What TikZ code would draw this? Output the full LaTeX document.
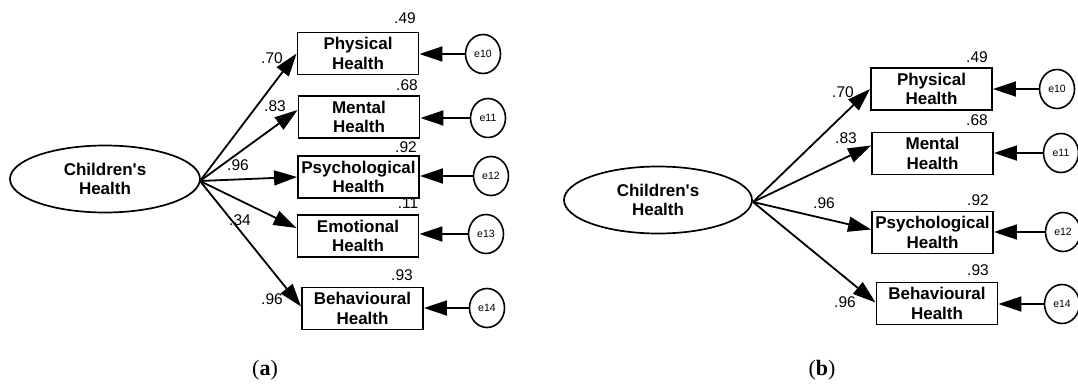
\documentclass[tikz,border=0pt]{standalone}
\usepackage{fontspec}
\newfontfamily\lab{Liberation Sans}
\newfontfamily\capf{Liberation Serif}
\usetikzlibrary{arrows.meta,shapes.geometric,calc}
\tikzset{
  var/.style={draw,line width=1.9pt,minimum width=121pt,minimum height=42pt,inner sep=0pt,align=center,
    font=\lab\bfseries\fontsize{17}{19.5}\selectfont},
  lat/.style={draw,ellipse,line width=1.7pt,minimum width=190pt,minimum height=67pt,inner sep=0pt,align=center,
    font=\lab\bfseries\fontsize{17}{19.5}\selectfont},
  err/.style={draw,ellipse,line width=1.6pt,minimum width=35pt,minimum height=39pt,inner sep=0pt,
    font=\lab\fontsize{10.5}{12}\selectfont},
  arr/.style={line width=1.8pt,-{Triangle[length=23pt,width=15pt]}},
  num/.style={font=\lab\fontsize{15.5}{17}\selectfont,inner sep=0pt},
  capt/.style={font=\capf\fontsize{22}{24}\selectfont,inner sep=0pt}
}
\begin{document}
\begin{tikzpicture}[x=1pt,y=-1pt]
\useasboundingbox (0,0) rectangle (1078,385);
% ---------- panel (a) ----------
\node[lat] (cha) at (105,179) {Children's\\Health};
\coordinate (oa) at (200,181);
\node[var] (pa1) at (358,53.5) {Physical\\Health};
\node[var] (pa2) at (359,117) {Mental\\Health};
\node[var] (pa3) at (358.5,177) {Psychological\\Health};
\node[var] (pa4) at (358,236) {Emotional\\Health};
\node[var] (pa5) at (362.5,308.5) {Behavioural\\Health};
\node[err] (ea10) at (483,54) {e10};
\node[err] (ea11) at (488,118) {e11};
\node[err] (ea12) at (491,176) {e12};
\node[err] (ea13) at (486,234) {e13};
\node[err] (ea14) at (487,308) {e14};
\draw[arr] (oa) -- (pa1.west);
\draw[arr] (oa) -- ([yshift=7pt]pa2.west);
\draw[arr] (oa) -- (pa3.west);
\draw[arr] (oa) -- ([yshift=8pt]pa4.west);
\draw[arr] (oa) -- ([yshift=2pt]pa5.west);
\foreach \e/\p in {ea10/pa1,ea11/pa2,ea12/pa3,ea13/pa4,ea14/pa5}
  \draw[arr] (\e.west) -- (\e -| \p.east);
\node[num] (la1) at (272,58) {.70};
\node[num] (la2) at (275,106) {.83};
\node[num] (la3) at (238,165) {.96};
\node[num] (la4) at (240,220) {.34};
\node[num] (la5) at (272,299) {.96};
\node[num] (ra1) at (405,18) {.49};
\node[num] (ra2) at (407,85) {.68};
\node[num] (ra3) at (406,147) {.92};
\node[num] (ra4) at (408,203) {.11};
\node[num] (ra5) at (402,275) {.93};
\node[capt] (capa) at (265,370) {(\textbf{a})};
% ---------- panel (b) ----------
\node[lat,minimum width=188pt] (chb) at (658,200) {Children's\\Health};
\coordinate (ob) at (753,202);
\node[var] (pb1) at (931.5,89) {Physical\\Health};
\node[var] (pb2) at (932.5,153.5) {Mental\\Health};
\node[var] (pb3) at (932.5,232.5) {Psychological\\Health};
\node[var] (pb4) at (937,303.5) {Behavioural\\Health};
\node[err] (eb10) at (1057,89) {e10};
\node[err] (eb11) at (1061,153) {e11};
\node[err] (eb12) at (1063,232) {e12};
\node[err] (eb14) at (1062,304) {e14};
\draw[arr] (ob) -- (pb1.west);
\draw[arr] (ob) -- ([yshift=8pt]pb2.west);
\draw[arr] (ob) -- ([yshift=3pt]pb3.west);
\draw[arr] (ob) -- ([yshift=1pt]pb4.west);
\foreach \e/\p in {eb10/pb1,eb11/pb2,eb12/pb3,eb14/pb4}
  \draw[arr] (\e.west) -- (\e -| \p.east);
\node[num] (lb1) at (843,92) {.70};
\node[num] (lb2) at (846,138) {.83};
\node[num] (lb3) at (824,203) {.96};
\node[num] (lb4) at (845,302) {.96};
\node[num] (rb1) at (977,57) {.49};
\node[num] (rb2) at (977,120) {.68};
\node[num] (rb3) at (978,200) {.92};
\node[num] (rb4) at (978,270) {.93};
\node[capt] (capb) at (822,370) {(\textbf{b})};
\end{tikzpicture}
\end{document}
